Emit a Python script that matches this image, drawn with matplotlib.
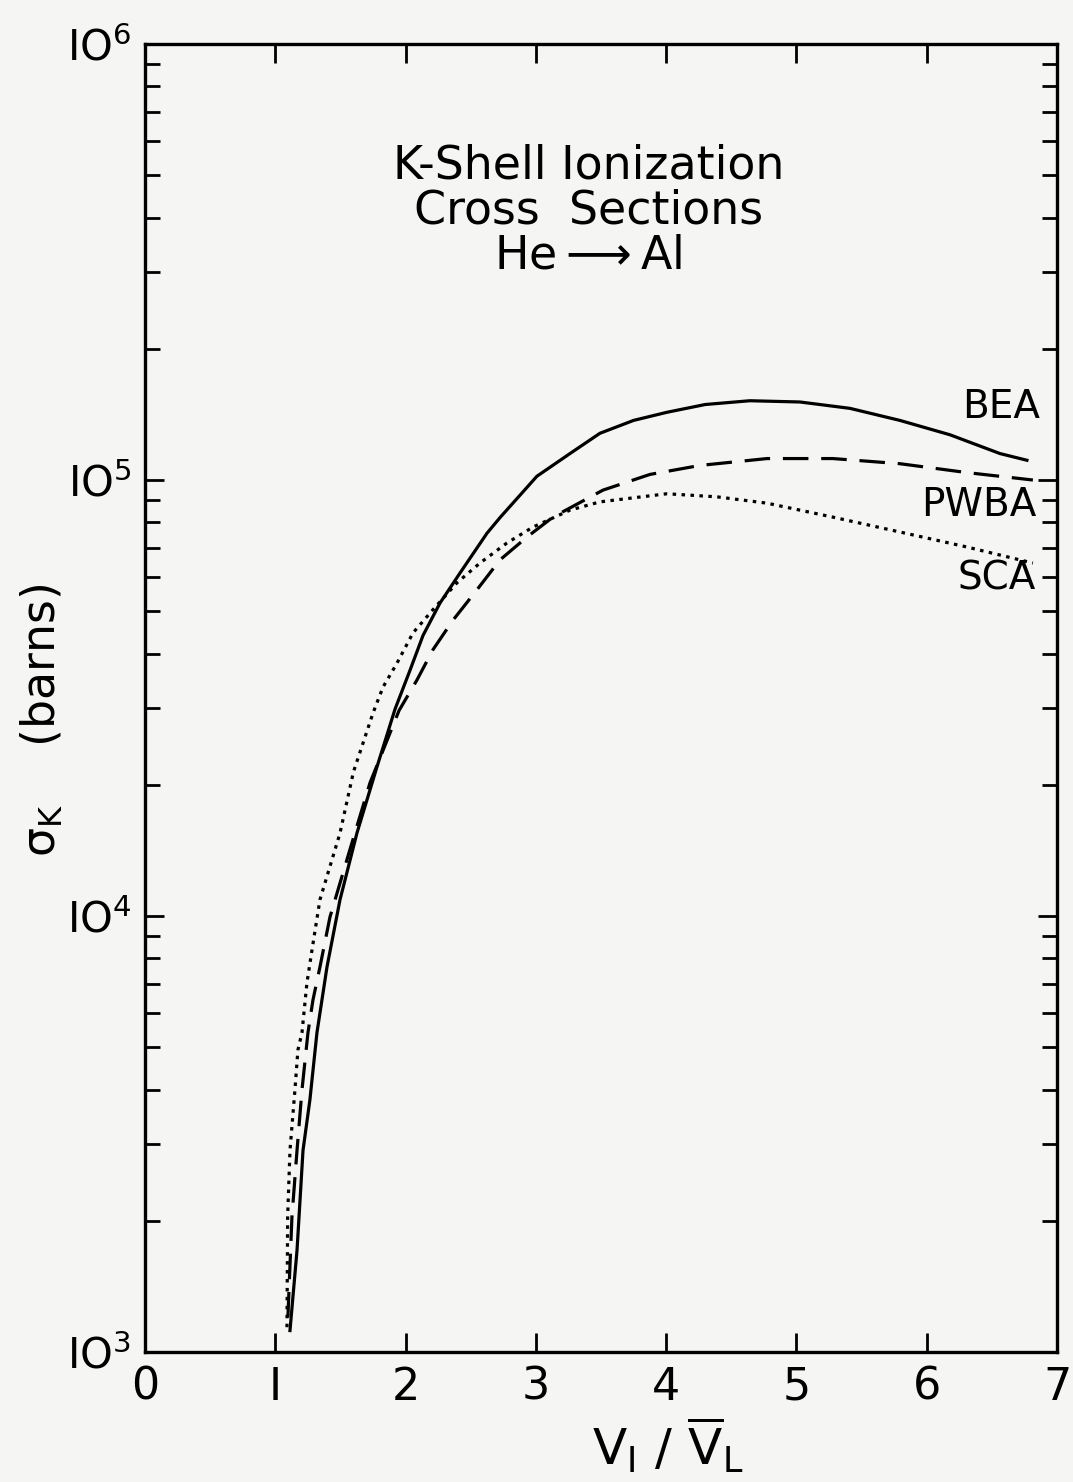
import numpy as np
import matplotlib.pyplot as plt
from matplotlib.ticker import LogLocator, NullFormatter

# curves (x = V1/VL, y = sigma_K in barns)
bea_x = [1.113, 1.167, 1.213, 1.266, 1.320, 1.397, 1.497, 1.627, 1.781, 1.919,
         2.034, 2.134, 2.264, 2.418, 2.625, 2.725, 3.008, 3.262, 3.492, 3.750,
         4.006, 4.300, 4.643, 5.027, 5.411, 5.794, 6.178, 6.562, 6.769]
bea_y = [1.12e3, 1.71e3, 2.90e3, 3.79e3, 5.40e3, 7.64e3, 1.09e4, 1.55e4, 2.20e4, 2.98e4,
         3.66e4, 4.40e4, 5.22e4, 6.12e4, 7.55e4, 8.20e4, 1.02e5, 1.15e5, 1.28e5, 1.37e5,
         1.43e5, 1.49e5, 1.52e5, 1.51e5, 1.46e5, 1.37e5, 1.27e5, 1.15e5, 1.11e5]

pwba_x = [1.097, 1.128, 1.167, 1.205, 1.251, 1.289, 1.343, 1.420, 1.573, 1.727,
          1.950, 2.088, 2.210, 2.364, 2.548, 2.725, 2.932, 3.131, 3.515, 3.876,
          4.259, 4.774, 5.280, 5.794, 6.309, 6.815]
pwba_y = [1.20e3, 2.04e3, 2.90e3, 3.99e3, 5.40e3, 6.41e3, 7.64e3, 9.95e3, 1.42e4, 2.02e4,
          2.96e4, 3.48e4, 4.08e4, 4.77e4, 5.60e4, 6.56e4, 7.40e4, 8.22e4, 9.48e4, 1.03e5,
          1.08e5, 1.12e5, 1.12e5, 1.09e5, 1.04e5, 1.00e5]

sca_x = [1.090, 1.095, 1.113, 1.151, 1.174, 1.205, 1.243, 1.282, 1.343, 1.497,
         1.600, 1.750, 1.827, 1.934, 2.057, 2.210, 2.394, 2.571, 2.778, 2.978,
         3.262, 3.492, 4.006, 4.390, 4.774, 5.280, 5.794, 6.309, 6.815]
sca_y = [1.14e3, 2.04e3, 2.90e3, 3.99e3, 4.93e3, 5.40e3, 7.02e3, 8.36e3, 1.09e4, 1.55e4,
         2.14e4, 2.92e4, 3.35e4, 3.80e4, 4.46e4, 5.04e4, 5.81e4, 6.45e4, 7.17e4, 7.80e4,
         8.53e4, 8.91e4, 9.30e4, 9.15e4, 8.85e4, 8.22e4, 7.60e4, 7.02e4, 6.45e4]

x_ticks = [0, 1, 2, 3, 4, 5, 6, 7]
x_ticklabels = ['0', 'I', '2', '3', '4', '5', '6', '7']
y_ticks = [1e3, 1e4, 1e5, 1e6]
y_ticklabels = ['$\\mathregular{IO^3}$', '$\\mathregular{IO^4}$',
                '$\\mathregular{IO^5}$', '$\\mathregular{IO^6}$']

bg = '#f5f5f3'
fig = plt.figure(figsize=(10.73, 14.82), dpi=100, facecolor=bg)
ax = fig.add_axes([0.1351, 0.0877, 0.850, 0.8826], facecolor=bg)

lw = 2.3
ax.plot(bea_x, bea_y, color='black', lw=lw, solid_joinstyle='round')
ax.plot(pwba_x, pwba_y, color='black', lw=lw, dashes=(8, 4))
ax.plot(sca_x, sca_y, color='black', lw=lw, dashes=(1.1, 1.7))

ax.set_yscale('log')
ax.set_xlim(0, 7)
ax.set_ylim(1e3, 1e6)

ax.set_xticks(x_ticks)
ax.set_xticklabels(x_ticklabels, fontsize=32)
ax.set_yticks(y_ticks)
ax.set_yticklabels(y_ticklabels, fontsize=30)
ax.yaxis.set_minor_locator(LogLocator(base=10, subs=np.arange(2, 10)))
ax.yaxis.set_minor_formatter(NullFormatter())

ax.tick_params(which='major', direction='in', length=14, width=2, top=True, right=True, pad=10)
ax.tick_params(which='minor', direction='in', length=11, width=2, right=True)
for s in ax.spines.values():
    s.set_linewidth(2.4)

ax.set_xlabel(r'$\mathregular{V_I\,\,/\,\,\overline{V}_L}$', fontsize=36)
ax.xaxis.set_label_coords(0.573, -0.048)
ax.set_ylabel(r'$\mathregular{\sigma_K}$    (barns)', fontsize=33)
ax.yaxis.label.set_va('center')
ax.yaxis.set_label_coords(-0.113, 0.483)

ax.text(0.486, 0.872, 'K-Shell Ionization\nCross  Sections\nHe$\\mathregular{\\longrightarrow}$Al',
        transform=ax.transAxes, ha='center', va='center', fontsize=33, linespacing=1.0)

ax.text(6.87, 1.47e5, 'BEA', ha='right', va='center', fontsize=28)
ax.text(6.84, 8.77e4, 'PWBA', ha='right', va='center', fontsize=28)
ax.text(6.84, 5.96e4, 'SCA', ha='right', va='center', fontsize=28)

fig.savefig('out.png', dpi=100, facecolor=bg)
